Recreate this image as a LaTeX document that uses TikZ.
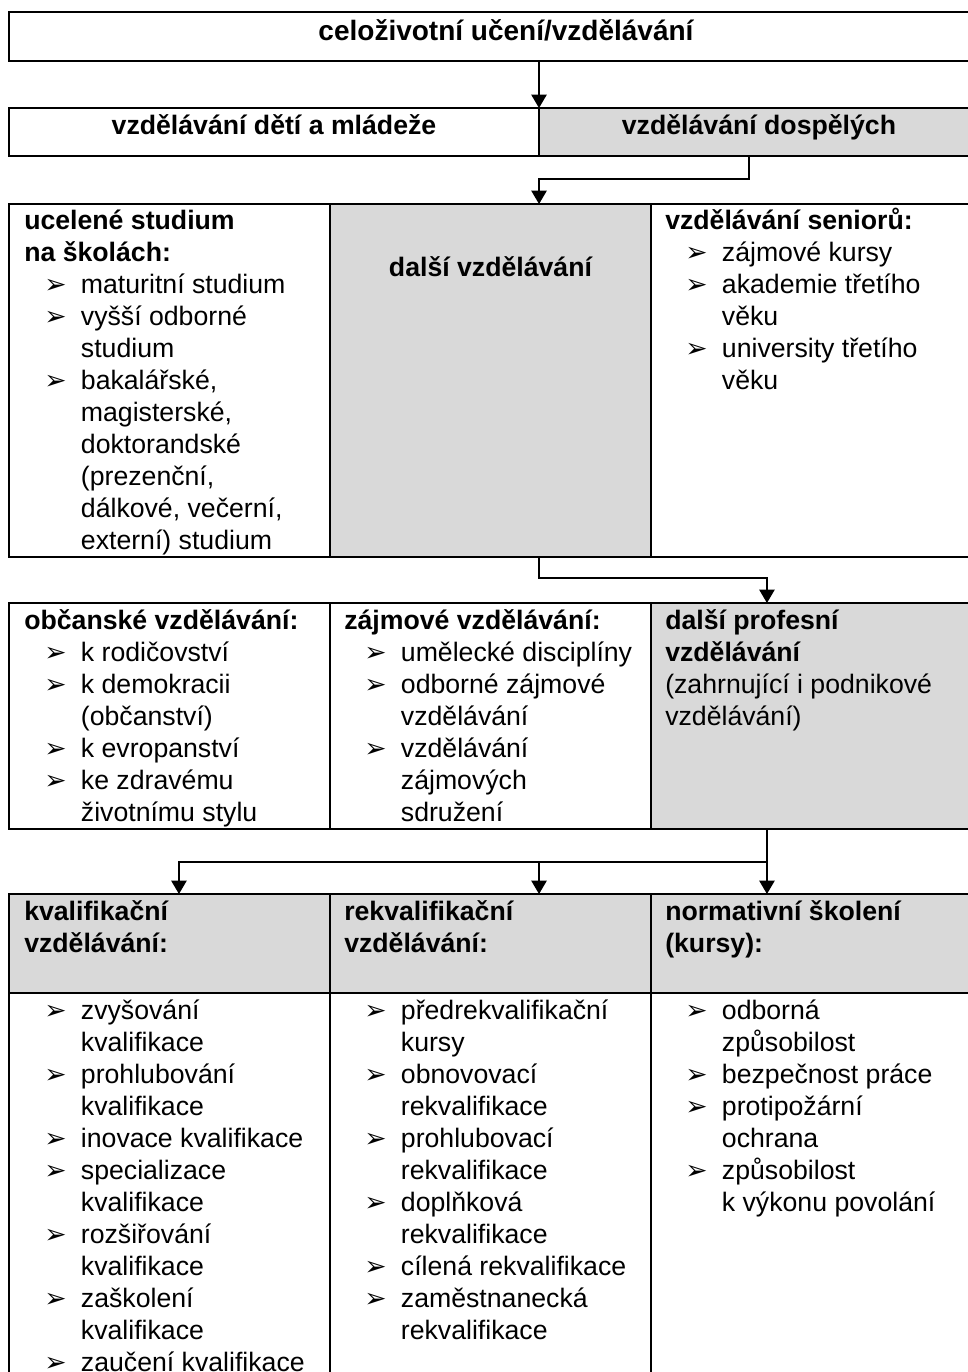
\documentclass[tikz,border=0pt]{standalone}
\usepackage{fontspec}
\setmainfont{Liberation Sans}
\newfontfamily\bulfont{DejaVu Sans}
\usetikzlibrary{arrows.meta,fit}
\definecolor{cellgray}{RGB}{217,217,217}
% list helpers: bullet line and continuation line
\newcommand\bulmark{\raisebox{-0.5pt}{\bulfont\fontsize{20}{24}\selectfont ➢}}
\newcommand\itemline[1]{\hspace*{15pt}\makebox[27.5pt][l]{\bulmark}#1}
\newcommand\contline[1]{\hspace*{42.5pt}#1}
\newcommand\celltext[1]{\parbox[t]{320pt}{\fontsize{20}{24}\selectfont\raggedright #1}}
\tikzset{
  cell/.style={draw, line width=1.5pt, inner sep=0pt, outer sep=0pt, fit={#1}},
  shaded/.style={fill=cellgray},
  txt/.style={anchor=base west, inner sep=0pt},
  head/.style={anchor=base, inner sep=0pt, font=\fontsize{20}{24}\selectfont\bfseries},
  conn/.style={line width=1pt, -{Triangle[width=11.5pt,length=10pt]}}
}
\begin{document}
\begin{tikzpicture}[x=0.75pt,y=-0.75pt]
\useasboundingbox (0,0) rectangle (968,1372);

% row 1
\node[cell={(9,12) (980,61)}] (life) {};
\node[head, font=\fontsize{21}{25}\selectfont\bfseries] (lifeT) at (506,40) {celoživotní učení/vzdělávání};

% row 2
\node[cell={(9,108) (539,156)}] (youth) {};
\node[cell={(539,108) (980,156)}, shaded] (adult) {};
\node[head] (youthT) at (274,134) {vzdělávání dětí a mládeže};
\node[head] (adultT) at (759,134) {vzdělávání dospělých};

% row 3
\node[cell={(9,204) (330,557)}] (school) {};
\node[cell={(330,204) (651,557)}, shaded] (further) {};
\node[cell={(651,204) (980,557)}] (senior) {};
\node[txt] (schoolT) at (24,229) {\celltext{%
\textbf{ucelené studium}\\
\textbf{na školách:}\\
\itemline{maturitní studium}\\
\itemline{vyšší odborné}\\
\contline{studium}\\
\itemline{bakalářské,}\\
\contline{magisterské,}\\
\contline{doktorandské}\\
\contline{(prezenční,}\\
\contline{dálkové, večerní,}\\
\contline{externí) studium}}};
\node[head] (furtherT) at (490.5,276) {další vzdělávání};
\node[txt] (seniorT) at (665,229) {\celltext{%
\textbf{vzdělávání seniorů:}\\
\itemline{zájmové kursy}\\
\itemline{akademie třetího}\\
\contline{věku}\\
\itemline{university třetího}\\
\contline{věku}}};

% row 4
\node[cell={(9,603) (330,829)}] (civic) {};
\node[cell={(330,603) (651,829)}] (hobby) {};
\node[cell={(651,603) (980,829)}, shaded] (profes) {};
\node[txt] (civicT) at (24,629) {\celltext{%
\textbf{občanské vzdělávání:}\\
\itemline{k rodičovství}\\
\itemline{k demokracii}\\
\contline{(občanství)}\\
\itemline{k evropanství}\\
\itemline{ke zdravému}\\
\contline{životnímu stylu}}};
\node[txt] (hobbyT) at (344,629) {\celltext{%
\textbf{zájmové vzdělávání:}\\
\itemline{umělecké disciplíny}\\
\itemline{odborné zájmové}\\
\contline{vzdělávání}\\
\itemline{vzdělávání}\\
\contline{zájmových}\\
\contline{sdružení}}};
\node[txt] (profesT) at (665,629) {\celltext{%
\textbf{další profesní}\\
\textbf{vzdělávání}\\
(zahrnující i podnikové\\
vzdělávání)}};

% row 5: headers
\node[cell={(9,894) (330,993)}, shaded] (kvalh) {};
\node[cell={(330,894) (651,993)}, shaded] (rekvalh) {};
\node[cell={(651,894) (980,993)}, shaded] (normh) {};
\node[txt] (kvalhT) at (24,920) {\celltext{\textbf{kvalifikační}\\ \textbf{vzdělávání:}}};
\node[txt] (rekvalhT) at (344,920) {\celltext{\textbf{rekvalifikační}\\ \textbf{vzdělávání:}}};
\node[txt] (normhT) at (665,920) {\celltext{\textbf{normativní školení}\\ \textbf{(kursy):}}};

% row 5: lists
\node[cell={(9,993) (330,1420)}] (kval) {};
\node[cell={(330,993) (651,1420)}] (rekval) {};
\node[cell={(651,993) (980,1420)}] (norm) {};
\node[txt] (kvalT) at (24,1019) {\celltext{%
\itemline{zvyšování}\\
\contline{kvalifikace}\\
\itemline{prohlubování}\\
\contline{kvalifikace}\\
\itemline{inovace kvalifikace}\\
\itemline{specializace}\\
\contline{kvalifikace}\\
\itemline{rozšiřování}\\
\contline{kvalifikace}\\
\itemline{zaškolení}\\
\contline{kvalifikace}\\
\itemline{zaučení kvalifikace}}};
\node[txt] (rekvalT) at (344,1019) {\celltext{%
\itemline{předrekvalifikační}\\
\contline{kursy}\\
\itemline{obnovovací}\\
\contline{rekvalifikace}\\
\itemline{prohlubovací}\\
\contline{rekvalifikace}\\
\itemline{doplňková}\\
\contline{rekvalifikace}\\
\itemline{cílená rekvalifikace}\\
\itemline{zaměstnanecká}\\
\contline{rekvalifikace}}};
\node[txt] (normT) at (665,1019) {\celltext{%
\itemline{odborná}\\
\contline{způsobilost}\\
\itemline{bezpečnost práce}\\
\itemline{protipožární}\\
\contline{ochrana}\\
\itemline{způsobilost}\\
\contline{k výkonu povolání}}};

% connectors
\draw[conn] (life.south -| adult.west) -- (adult.north west);
\draw[conn] ([xshift=-7.9pt]adult.south) -- ++(0,23) -| ([xshift=36.4pt]further.north);
\draw[conn] ([xshift=36.4pt]further.south) -- ++(0,21) -| ([xshift=-36.4pt]profes.north);
\draw[conn] ([xshift=-36.4pt]profes.south) -- ([xshift=-36.4pt]normh.north);
\draw[conn] ([xshift=-36.4pt]profes.south) ++(0,33) -| ([xshift=36.4pt]rekvalh.north);
\draw[conn] ([xshift=-36.4pt]profes.south) ++(0,33) -| ([xshift=7.1pt]kvalh.north);
\end{tikzpicture}
\end{document}
